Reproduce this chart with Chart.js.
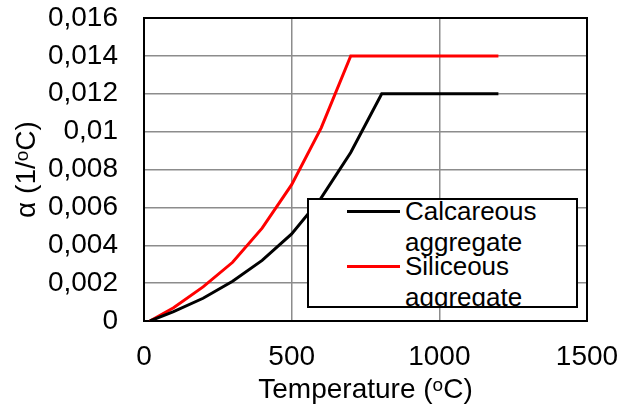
<!DOCTYPE html>
<html>
<head>
<meta charset="utf-8">
<script src="https://cdn.jsdelivr.net/npm/chart.js@4.4.1/dist/chart.umd.min.js"></script>
<style>
  html, body { margin: 0; padding: 0; background: #fff; }
  #wrap { position: relative; width: 621px; height: 410px; }
  #legend {
    position: absolute; left: 307px; top: 198px; width: 267px; height: 106px;
    border: 2px solid #000; background: #fff; overflow: hidden;
    font: 26px 'Liberation Sans', Arial, sans-serif; color: #000;
  }
  .entry { position: absolute; left: 0; }
  .entry .swatch { position: absolute; left: 38px; top: 14px; width: 53px; height: 3px; }
  .entry .text { position: absolute; left: 96px; width: 168px; line-height: 31px; }
</style>
</head>
<body>
<div id="wrap">
  <canvas id="chart" width="621" height="410"></canvas>
  <div id="legend"></div>
</div>
<script>
// Temperaturas (ºC) y coeficiente α de cada tipo de árido
const calcTemp = [20, 100, 200, 300, 400, 500, 600, 700, 805, 1200];
const calcAlpha = [0, 0.0005, 0.0012, 0.0021, 0.0032, 0.0046, 0.0065, 0.0089, 0.012, 0.012];
const silTemp = [20, 100, 200, 300, 400, 500, 600, 700, 1200];
const silAlpha = [0, 0.0007, 0.0018, 0.0031, 0.0049, 0.0072, 0.0102, 0.014, 0.014];

const seriesLabels = ['Calcareous aggregate', 'Siliceous aggregate'];
const seriesColors = ['#000000', '#ff0000'];
const xTicks = [0, 500, 1000, 1500];
const yTicks = [0, 0.002, 0.004, 0.006, 0.008, 0.01, 0.012, 0.014, 0.016];

const FONT = "'Liberation Sans', Arial, sans-serif";
Chart.defaults.font.family = FONT;
Chart.defaults.font.size = 28;
Chart.defaults.color = '#000';

function toPoints(xs, ys) {
  return xs.map((x, i) => ({ x: x, y: ys[i] }));
}

// Marco negro alrededor del área de trazado
const frame = {
  id: 'frame',
  beforeDatasetsDraw(chart) {
    const a = chart.chartArea, ctx = chart.ctx;
    ctx.save();
    ctx.strokeStyle = '#000';
    ctx.lineWidth = 2;
    ctx.strokeRect(a.left, a.top, a.right - a.left, a.bottom - a.top);
    ctx.restore();
  }
};

const chart = new Chart(document.getElementById('chart'), {
  type: 'line',
  data: {
    datasets: [
      { label: seriesLabels[0], data: toPoints(calcTemp, calcAlpha), borderColor: seriesColors[0] },
      { label: seriesLabels[1], data: toPoints(silTemp, silAlpha), borderColor: seriesColors[1] }
    ]
  },
  options: {
    responsive: false,
    animation: false,
    layout: { padding: { top: 18, right: 34, left: 0, bottom: 0 } },
    elements: {
      line: { borderWidth: 3, tension: 0, fill: false },
      point: { radius: 0 }
    },
    plugins: { legend: { display: false }, tooltip: { enabled: false } },
    scales: {
      x: {
        type: 'linear', min: 0, max: 1500,
        afterBuildTicks: s => { s.ticks = xTicks.map(v => ({ value: v })); },
        afterFit: s => { s.height = 89; s.paddingLeft = 0; s.paddingRight = 0; },
        grid: { color: '#8c8c8c', lineWidth: 1.5, drawTicks: false },
        border: { display: false },
        ticks: { padding: 19, callback: v => String(v) },
        title: { display: true, text: 'Temperature (ᵒC)', padding: { bottom: 3 } }
      },
      y: {
        min: 0, max: 0.016,
        afterBuildTicks: s => { s.ticks = yTicks.map(v => ({ value: v })); },
        afterFit: s => { s.width = 144; s.paddingTop = 0; s.paddingBottom = 0; },
        grid: { color: '#8c8c8c', lineWidth: 1.5, drawTicks: false },
        border: { display: false },
        ticks: {
          padding: 26,
          callback: v => String(Number(v.toFixed(3))).replace('.', ',')
        },
        title: { display: true, text: 'α (1/ᵒC)', padding: { top: 10 } }
      }
    }
  },
  plugins: [frame]
});

// Leyenda dentro del área de trazado
const legend = document.getElementById('legend');
const entryTops = [-4, 51];
chart.data.datasets.forEach((ds, i) => {
  const e = document.createElement('div');
  e.className = 'entry';
  e.style.top = entryTops[i] + 'px';
  e.innerHTML = '<div class="swatch" style="background:' + ds.borderColor + '"></div>' +
                '<div class="text">' + ds.label + '</div>';
  legend.appendChild(e);
});
</script>
</body>
</html>
